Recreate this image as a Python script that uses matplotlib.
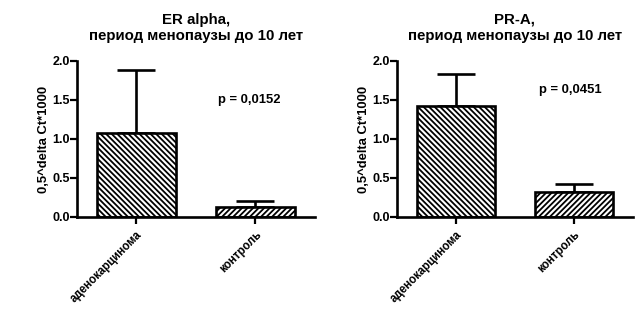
import matplotlib
matplotlib.use("Agg")
import matplotlib.pyplot as plt

plt.rcParams['font.family'] = ['Liberation Sans', 'DejaVu Sans']
plt.rcParams['font.weight'] = 'bold'
plt.rcParams['hatch.linewidth'] = 1.3

categories = ['аденокарцинома', 'контроль']
titles = ['ER alpha,\nпериод менопаузы до 10 лет', 'PR-A,\nпериод менопаузы до 10 лет']
er_means = [1.08, 0.13]
er_errors = [0.81, 0.08]
pr_means = [1.42, 0.32]
pr_errors = [0.41, 0.10]
p_values = ['p = 0,0152', 'p = 0,0451']
p_pos = [(0.95, 1.5), (0.97, 1.63)]
y_ticks = [0.0, 0.5, 1.0, 1.5, 2.0]
hatches = ['\\' * 6, '/' * 6]

fig = plt.figure(figsize=(6.4, 3.32), dpi=100)
panels = [[0.120, 0.3464, 0.372, 0.47], [0.620, 0.3464, 0.369, 0.47]]

for i, (means, errs) in enumerate([(er_means, er_errors), (pr_means, pr_errors)]):
    ax = fig.add_axes(panels[i])
    x = range(len(categories))
    for j in x:
        ax.errorbar(j, means[j], yerr=[[0], [errs[j]]], fmt='none',
                    ecolor='black', elinewidth=1.9, capsize=14, capthick=1.9, zorder=1)
        ax.bar(j, means[j], width=0.66, color='white', edgecolor='black',
               linewidth=1.9, hatch=hatches[j], zorder=2)
    ax.set_xlim(-0.5, 1.5)
    ax.set_ylim(0, 2.0)
    ax.set_yticks(y_ticks)
    ax.set_yticklabels(['%.1f' % t for t in y_ticks], fontsize=9, fontweight='bold')
    ax.set_xticks(list(x))
    ax.set_xticklabels(categories, rotation=45, ha='right', rotation_mode='anchor',
                       fontsize=8.3, fontweight='bold')
    ax.spines['top'].set_visible(False)
    ax.spines['right'].set_visible(False)
    ax.spines['left'].set_linewidth(1.9)
    ax.spines['bottom'].set_linewidth(1.9)
    ax.tick_params(axis='both', direction='out', width=1.6, length=5)
    ax.tick_params(axis='y', pad=0)
    ax.set_ylabel('0,5^delta Ct*1000', fontsize=9.4, fontweight='bold', labelpad=2)
    ax.set_title(titles[i], fontsize=10.8, fontweight='bold', pad=15, linespacing=1.2)
    ax.text(p_pos[i][0], p_pos[i][1], p_values[i], ha='center', va='center',
            fontsize=9.4, fontweight='bold')

fig.savefig('out.png', dpi=100)
